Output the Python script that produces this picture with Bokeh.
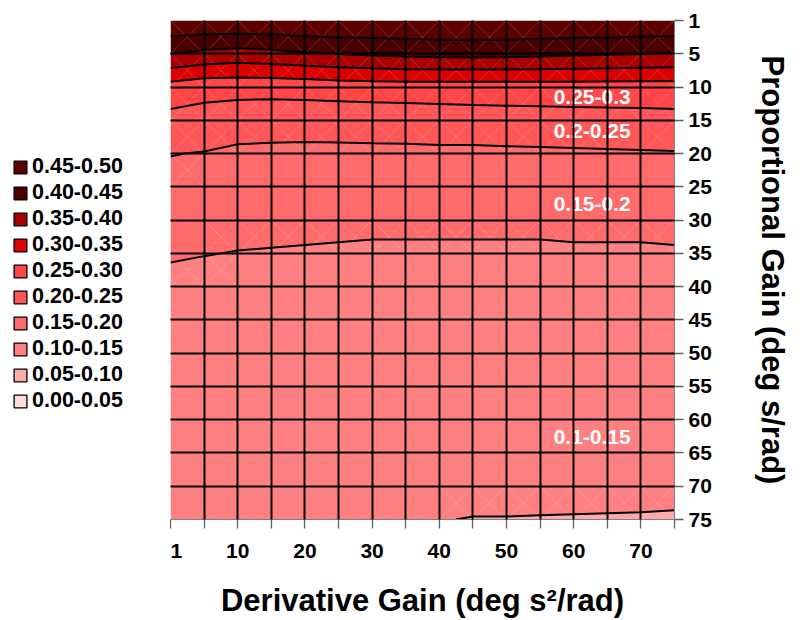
import numpy as np
from bokeh.plotting import figure
from bokeh.layouts import row
from bokeh.models import FixedTicker, Range1d, Legend, LegendItem, ColumnDataSource
from bokeh.core.properties import value
from bokeh.embed import file_html
from bokeh.resources import INLINE

# Gain settings on each axis of the surface
derivative_gain = [1, 5, 10, 15, 20, 25, 30, 35, 40, 45, 50, 55, 60, 65, 70, 75]
proportional_gain = [1, 5, 10, 15, 20, 25, 30, 35, 40, 45, 50, 55, 60, 65, 70, 75]

# Surface values: one row per proportional gain, one column per derivative gain
surface_values = [
    [0.493, 0.495, 0.496, 0.496, 0.499, 0.499, 0.498, 0.498, 0.498, 0.498, 0.498, 0.498, 0.498, 0.498, 0.497, 0.496],
    [0.402, 0.388, 0.381, 0.387, 0.395, 0.401, 0.407, 0.411, 0.414, 0.415, 0.414, 0.411, 0.407, 0.404, 0.401, 0.398],
    [0.281, 0.269, 0.267, 0.267, 0.270, 0.275, 0.277, 0.279, 0.278, 0.278, 0.278, 0.279, 0.280, 0.279, 0.279, 0.279],
    [0.234, 0.229, 0.223, 0.221, 0.219, 0.216, 0.218, 0.219, 0.223, 0.226, 0.228, 0.229, 0.230, 0.232, 0.233, 0.235],
    [0.2015, 0.198, 0.191, 0.190, 0.190, 0.192, 0.192, 0.192, 0.192, 0.191, 0.192, 0.193, 0.194, 0.195, 0.196, 0.197],
    [0.185, 0.181, 0.175, 0.174, 0.174, 0.175, 0.175, 0.175, 0.174, 0.174, 0.175, 0.175, 0.176, 0.177, 0.177, 0.178],
    [0.168, 0.165, 0.161, 0.160, 0.159, 0.158, 0.157, 0.157, 0.157, 0.157, 0.157, 0.157, 0.158, 0.158, 0.158, 0.159],
    [0.153, 0.151, 0.149, 0.148, 0.147, 0.146, 0.145, 0.145, 0.145, 0.145, 0.145, 0.145, 0.146, 0.146, 0.146, 0.147],
    [0.142, 0.139, 0.139, 0.138, 0.137, 0.136, 0.136, 0.135, 0.135, 0.135, 0.135, 0.135, 0.135, 0.135, 0.135, 0.136],
    [0.135, 0.132, 0.132, 0.131, 0.130, 0.129, 0.129, 0.128, 0.127, 0.127, 0.127, 0.127, 0.127, 0.127, 0.127, 0.127],
    [0.129, 0.126, 0.126, 0.125, 0.124, 0.123, 0.123, 0.122, 0.121, 0.121, 0.120, 0.120, 0.120, 0.120, 0.120, 0.120],
    [0.124, 0.121, 0.121, 0.120, 0.119, 0.118, 0.118, 0.117, 0.116, 0.115, 0.115, 0.115, 0.115, 0.115, 0.115, 0.115],
    [0.119, 0.117, 0.116, 0.115, 0.114, 0.113, 0.113, 0.112, 0.111, 0.110, 0.110, 0.110, 0.110, 0.110, 0.110, 0.110],
    [0.115, 0.113, 0.112, 0.111, 0.110, 0.109, 0.109, 0.108, 0.107, 0.106, 0.106, 0.106, 0.106, 0.106, 0.106, 0.106],
    [0.111, 0.110, 0.109, 0.108, 0.107, 0.106, 0.105, 0.104, 0.1034, 0.1031, 0.1030, 0.1028, 0.1027, 0.1026, 0.1025, 0.1023],
    [0.108, 0.107, 0.106, 0.105, 0.104, 0.103, 0.102, 0.101, 0.1003, 0.0997, 0.0997, 0.0996, 0.0995, 0.0994, 0.0993, 0.0991],
]

# Contour bands, lowest first
levels = [0.00, 0.05, 0.10, 0.15, 0.20, 0.25, 0.30, 0.35, 0.40, 0.45, 0.50]
band_labels = ["0.00-0.05", "0.05-0.10", "0.10-0.15", "0.15-0.20", "0.20-0.25",
               "0.25-0.30", "0.30-0.35", "0.35-0.40", "0.40-0.45", "0.45-0.50"]
band_colors = ["#ffdcdc", "#ffaaaa", "#ff8080", "#ff6b6b", "#ff5757",
               "#ff4545", "#dd0000", "#aa0000", "#4a0000", "#5c0000"]

# Band names written on the surface
area_names = ["0.25-0.3", "0.2-0.25", "0.15-0.2", "0.1-0.15"]

FONT = "Liberation Sans"

z = np.array(surface_values)
xi = np.arange(len(derivative_gain))
yi = np.arange(len(proportional_gain))
nx, ny = len(xi), len(yi)

# ---------------- surface plot ----------------
p = figure(width=630, height=620, output_backend="svg", toolbar_location=None,
           x_range=Range1d(0, nx - 1), y_range=Range1d(ny - 1, 0),
           y_axis_location="right",
           min_border_left=0, min_border_right=126,
           min_border_top=20, min_border_bottom=97)
p.outline_line_color = None
p.background_fill_color = "white"
p.border_fill_color = "white"

# filled bands
p.contour(xi, yi, z, levels, fill_color=band_colors)

# faint triangulation seams in cells that a contour passes through
seam_xs, seam_ys = [], []
for r in range(ny - 1):
    for c in range(nx - 1):
        cell = z[r:r + 2, c:c + 2]
        if any(cell.min() < lv < cell.max() for lv in levels):
            seam_xs += [[c, c + 1], [c, c + 1]]
            seam_ys += [[r, r + 1], [r + 1, r]]
p.multi_line(seam_xs, seam_ys, line_color="white", line_alpha=0.16, line_width=1)

# contour lines
p.contour(xi, yi, z, levels, line_color="black", line_width=2)

# grid over the surface
for g in (p.xgrid, p.ygrid):
    g.ticker = FixedTicker(ticks=list(range(nx)))
    g.grid_line_color = "black"
    g.grid_line_width = 2
    g.level = "guide"

# axes
p.xaxis.ticker = FixedTicker(ticks=list(xi))
p.xaxis.major_label_overrides = {
    int(i): (str(derivative_gain[i]) if i % 2 == 0 and i < nx - 1 else "") for i in xi
}
p.yaxis.ticker = FixedTicker(ticks=list(yi))
p.yaxis.major_label_overrides = {int(i): str(proportional_gain[i]) for i in yi}

p.xaxis.axis_label = "Derivative Gain (deg s\u00b2/rad)"
p.yaxis.axis_label = "Proportional Gain (deg s/rad)"

for ax in (p.xaxis, p.yaxis):
    ax.major_label_text_font = FONT
    ax.major_label_text_font_style = "bold"
    ax.major_label_text_font_size = "21px"
    ax.major_label_text_color = "black"
    ax.axis_label_text_font = FONT
    ax.axis_label_text_font_style = "bold"
    ax.axis_label_text_font_size = "31px"
    ax.axis_label_text_color = "black"
    ax.axis_line_color = "#808080"
    ax.major_tick_line_color = "#606060"
    ax.major_tick_line_width = 1.3
    ax.major_tick_in = 0
    ax.major_tick_out = 9
    ax.minor_tick_line_color = None

p.xaxis.major_label_standoff = 15
p.xaxis.axis_label_standoff = 22
p.yaxis.major_label_standoff = 5
p.yaxis.axis_label_standoff = 40

# band names on the surface
names_src = ColumnDataSource(dict(x=[12.55, 12.55, 12.55, 12.55],
                                  y=[2.30, 3.31, 5.52, 12.53],
                                  text=area_names))
p.text(x="x", y="y", text="text", source=names_src,
       text_color="white", text_font=value(FONT), text_font_style="bold",
       text_font_size="21px", text_align="center", text_baseline="middle")

# ---------------- legend panel ----------------
lg = figure(width=170, height=620, output_backend="svg", toolbar_location=None,
            x_axis_location=None, y_axis_location=None,
            x_range=Range1d(0, 1), y_range=Range1d(0, 1),
            min_border=0)
lg.outline_line_color = None
lg.grid.visible = False
lg.background_fill_color = "white"
lg.border_fill_color = "white"

# one swatch entry per band, used only by the legend
band_src = ColumnDataSource(dict(lower=levels[:-1], upper=levels[1:],
                                 color=band_colors, label=band_labels))
swatch = lg.quad(left="lower", right="upper", bottom="lower", top="upper",
                 source=band_src, fill_color="color",
                 line_color="black", line_width=1.3)
swatch.visible = False

items = [LegendItem(label=band_labels[k], renderers=[swatch], index=k)
         for k in reversed(range(len(band_labels)))]

legend = Legend(items=items, location=(12, 106), padding=0, spacing=1, margin=0,
                glyph_width=16, glyph_height=16, label_height=24, label_standoff=4,
                label_text_font=FONT, label_text_font_style="bold",
                label_text_font_size="21.5px", label_text_color="black",
                border_line_color=None, background_fill_alpha=0)
lg.add_layout(legend)

open("out.html", "w").write(file_html(row(lg, p), INLINE))
